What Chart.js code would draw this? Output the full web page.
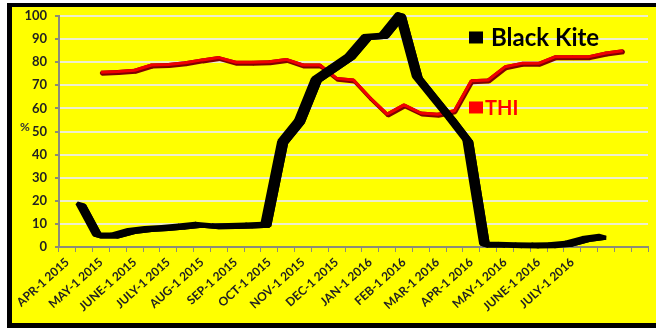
<!DOCTYPE html>
<html>
<head>
<meta charset="utf-8">
<script src="https://cdn.jsdelivr.net/npm/chart.js@4/dist/chart.umd.min.js"></script>
<style>
  html, body { margin: 0; padding: 0; background: #fff; }
  #wrap { position: relative; width: 656px; height: 328px; }
</style>
</head>
<body>
<div id="wrap"><canvas id="chartKite" width="656" height="328"></canvas></div>
<script>
// half-month sampling dates, APR-1 2015 .. SEP-1 2016
const categories = [
  'APR-1 2015', 'APR-15 2015', 'MAY-1 2015', 'MAY-15 2015', 'JUNE-1 2015', 'JUNE-15 2015',
  'JULY-1 2015', 'JULY-15 2015', 'AUG-1 2015', 'AUG-15 2015', 'SEP-1 2015', 'SEP-15 2015',
  'OCT-1 2015', 'OCT-15 2015', 'NOV-1 2015', 'NOV-15 2015', 'DEC-1 2015', 'DEC-15 2015',
  'JAN-1 2016', 'JAN-15 2016', 'FEB-1 2016', 'FEB-15 2016', 'MAR-1 2016', 'MAR-15 2016',
  'APR-1 2016', 'APR-15 2016', 'MAY-1 2016', 'MAY-15 2016', 'JUNE-1 2016', 'JUNE-15 2016',
  'JULY-1 2016', 'JULY-15 2016', 'AUG-1 2016', 'AUG-15 2016', 'SEP-1 2016'
];

// labels actually printed under the axis (every other category)
const tickLabels = [
  'APR-1 2015', 'MAY-1 2015', 'JUNE-1 2015', 'JULY-1 2015', 'AUG-1 2015', 'SEP-1 2015',
  'OCT-1 2015', 'NOV-1 2015', 'DEC-1 2015', 'JAN-1 2016', 'FEB-1 2016', 'MAR-1 2016',
  'APR-1 2016', 'MAY-1 2016', 'JUNE-1 2016', 'JULY-1 2016'
];

const blackKite = [
  null, 18, 4.5, 4.5, 6.5, 7.4, 7.8, 8.4, 9.2, 8.6, 8.7, 8.9,
  9.2, 45, 54, 72, 77, 82, 90.5, 91, 100, 73, 64, 55,
  45.5, 0.5, 0.5, 0.3, 0.2, 0.3, 1.0, 3.0, 4.0, null, null
];

const thi = [
  null, null, 75.6, 76, 76.5, 78.8, 79, 79.8, 81, 82, 80, 80,
  80.2, 81.2, 78.8, 78.8, 73, 72.3, 64.5, 57.5, 61.5, 58, 57.5, 59,
  72, 72.3, 78, 79.5, 79.5, 82.4, 82.4, 82.4, 84, 85, null
];

const yTicks = [0, 10, 20, 30, 40, 50, 60, 70, 80, 90, 100];

// yellow panel with black frame
const frame = {
  id: 'frame',
  beforeDraw(chart) {
    const c = chart.ctx;
    c.save();
    c.fillStyle = '#ffffff';
    c.fillRect(0, 0, chart.width, chart.height);
    c.fillStyle = '#ffff00';
    c.fillRect(7, 3, chart.width - 7, chart.height - 3);
    c.fillStyle = '#000000';
    c.fillRect(7, 3, chart.width - 7, 4);
    c.fillRect(7, 3, 5, chart.height - 3);
    c.fillRect(7, chart.height - 5, chart.width - 7, 5);
    c.restore();
  }
};

// fake 3d ribbon behind each line
const ribbon = {
  id: 'ribbon',
  beforeDatasetDraw(chart, args) {
    const ds = chart.data.datasets[args.index];
    if (!ds.depth) return;
    const pts = args.meta.data;
    const dx = ds.depth[0], dy = ds.depth[1];
    const c = chart.ctx;
    c.save();
    c.fillStyle = ds.depthColor;
    c.strokeStyle = ds.depthColor;
    c.lineWidth = ds.borderWidth;
    c.lineJoin = 'bevel';
    for (let i = 1; i < pts.length; i++) {
      const a = pts[i - 1], b = pts[i];
      if (a.skip || b.skip) continue;
      c.beginPath();
      c.moveTo(a.x, a.y);
      c.lineTo(b.x, b.y);
      c.lineTo(b.x + dx, b.y + dy);
      c.lineTo(a.x + dx, a.y + dy);
      c.closePath();
      c.fill();
      c.stroke();
    }
    c.restore();
  }
};

// legend entries and the "%" axis label
const labels = {
  id: 'labels',
  afterDraw(chart) {
    const c = chart.ctx;
    const y = chart.scales.y;
    c.save();
    c.textBaseline = 'middle';
    c.fillStyle = '#000000';
    c.fillRect(469, y.getPixelForValue(90.7) - 6, 14, 12);
    c.font = 'bold 24px Lato';
    c.fillText('Black Kite', 491, y.getPixelForValue(90.7) + 1);
    c.fillStyle = '#ff0000';
    c.fillRect(469, y.getPixelForValue(60.4) - 6, 14, 12);
    c.font = 'bold 20px Lato';
    c.fillText('THI', 485, y.getPixelForValue(60.4) + 1);
    c.fillStyle = '#333333';
    c.font = 'bold 12px Lato';
    c.textAlign = 'center';
    c.fillText('%', 25, y.getPixelForValue(52));
    c.restore();
  }
};

const ctx = document.getElementById('chartKite').getContext('2d');

new Chart(ctx, {
  type: 'line',
  data: {
    labels: categories,
    datasets: [
      {
        label: 'Black Kite',
        data: blackKite,
        borderColor: '#000000',
        borderWidth: 4,
        borderJoinStyle: 'bevel',
        pointRadius: 0,
        tension: 0,
        depth: [-7, -2],
        depthColor: '#000000'
      },
      {
        label: 'THI',
        data: thi,
        borderColor: '#f00000',
        borderWidth: 3,
        borderJoinStyle: 'bevel',
        pointRadius: 0,
        tension: 0,
        depth: [1, 2],
        depthColor: '#800000'
      }
    ]
  },
  options: {
    responsive: false,
    animation: false,
    layout: { padding: { top: 16, right: 8, left: 0, bottom: 0 } },
    plugins: {
      legend: { display: false },
      tooltip: { enabled: false }
    },
    scales: {
      x: {
        offset: true,
        afterFit: function (scale) { scale.height = 81; },
        border: { color: '#8c8c78', width: 2 },
        grid: {
          offset: true,
          drawOnChartArea: false,
          tickLength: 5,
          tickColor: '#8c8c78',
          lineWidth: 1
        },
        ticks: {
          autoSkip: false,
          minRotation: 42,
          maxRotation: 42,
          padding: 3,
          color: '#222222',
          font: { family: 'Lato', weight: 'bold', size: 12 },
          callback: function (val, idx) {
            return idx % 2 === 0 && tickLabels[idx / 2] ? tickLabels[idx / 2] : '';
          }
        }
      },
      y: {
        min: 0,
        max: 100,
        afterFit: function (scale) { scale.width = 59; },
        afterBuildTicks: function (scale) {
          scale.ticks = yTicks.map(v => ({ value: v }));
        },
        border: { color: '#8c8c78', width: 2 },
        grid: {
          color: ctx => ctx.tick && ctx.tick.value === 0 ? 'rgba(0,0,0,0)' : '#eeeecc',
          lineWidth: 2,
          tickLength: 4,
          tickColor: '#8c8c78'
        },
        ticks: {
          padding: 8,
          color: '#222222',
          font: { family: 'Lato', weight: 'bold', size: 13 }
        }
      }
    }
  },
  plugins: [frame, ribbon, labels]
});
</script>
</body>
</html>
